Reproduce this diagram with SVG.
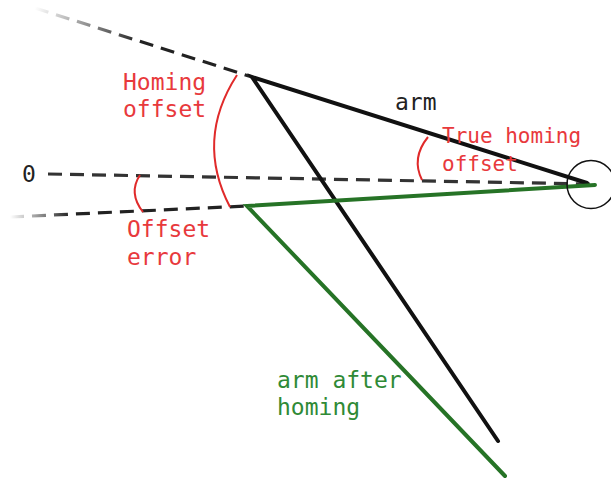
<svg xmlns="http://www.w3.org/2000/svg" width="611" height="479" viewBox="0 0 611 479">
<style>
.dash{fill:none;stroke-width:3.2;stroke-dasharray:14 8}
.arm{fill:none;stroke:#111;stroke-width:4;stroke-linecap:round;stroke-linejoin:miter}
.armg{fill:none;stroke:#267326;stroke-width:4;stroke-linecap:round}
.arc{fill:none;stroke:#e02a2a;stroke-width:2}
text{font-family:"DejaVu Sans Mono","Liberation Mono",monospace;font-size:23px}
.red{fill:#e8393c}
.grn{fill:#2f8a36}
.blk{fill:#222}
</style>
<defs>
<linearGradient id="gTop" gradientUnits="userSpaceOnUse" x1="35" y1="8" x2="140" y2="42">
<stop offset="0" stop-color="#fff"/><stop offset="1" stop-color="#222"/>
</linearGradient>
<linearGradient id="gLow" gradientUnits="userSpaceOnUse" x1="10" y1="217" x2="70" y2="214">
<stop offset="0" stop-color="#fff"/><stop offset="1" stop-color="#222"/>
</linearGradient>
</defs>
<g id="connectors">
<path class="dash" stroke="url(#gTop)" d="M35,8 L252,77"/>
<path class="dash" stroke="#333" d="M48,174 L590,184"/>
<path class="dash" stroke="url(#gLow)" d="M10,217 L247,206"/>
<path class="arm" d="M587,183 L252,77 L498,441"/>
<path class="armg" d="M595,185 L247,206 L505,476"/>
</g>
<g id="pivot"><circle cx="591" cy="184.5" r="24" fill="none" stroke="#111" stroke-width="1.5"/></g>
<g id="arcs">
<path class="arc" d="M237,75 Q195,140 230,207"/>
<path class="arc" d="M140,175 Q128,193 143,212"/>
<path class="arc" d="M428,137 Q411,158 422,180"/>
</g>
<g id="labels">
<text class="blk" x="22" y="182">0</text>
<text class="red" x="123" y="90">Homing</text>
<text class="red" x="123" y="117">offset</text>
<text class="blk" x="395" y="110">arm</text>
<text class="red" x="442" y="143" style="font-size:21px">True homing</text>
<text class="red" x="442" y="171" style="font-size:21px">offset</text>
<text class="red" x="127" y="237">Offset</text>
<text class="red" x="127" y="265">error</text>
<text class="grn" x="277" y="388">arm after</text>
<text class="grn" x="277" y="415">homing</text>
</g>
</svg>
